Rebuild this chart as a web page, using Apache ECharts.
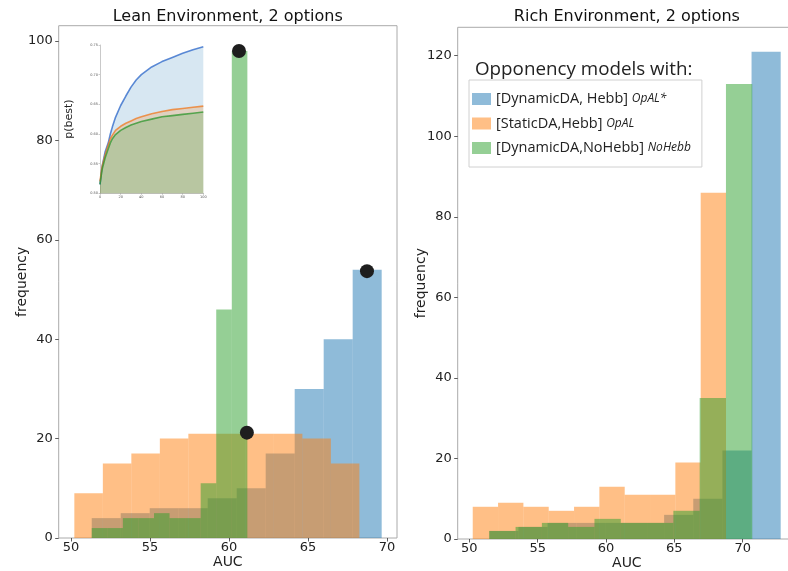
<!DOCTYPE html>
<html><head><meta charset="utf-8">
<script src="https://cdn.jsdelivr.net/npm/echarts@6/dist/echarts.min.js"></script>
<style>html,body{margin:0;padding:0;background:#fff}#c{width:788px;height:571px}</style>
</head><body><div id="c"></div>
<script>
// ---- data ----
const seriesNames = ['[DynamicDA, Hebb]', '[StaticDA,Hebb]', '[DynamicDA,NoHebb]'];
const seriesTags = ['OpAL*', 'OpAL', 'NoHebb'];

const leanBlueRange = [51.31, 69.66];
const leanBlueCounts = [4, 5, 6, 6, 8, 10, 17, 30, 40, 54];
const leanOrangeRange = [50.21, 68.25];
const leanOrangeCounts = [9, 15, 17, 20, 21, 21, 21, 21, 20, 15];
const leanGreenRange = [51.31, 61.16];
const leanGreenCounts = [2, 2, 4, 4, 5, 4, 4, 11, 46, 98];

const richBlueRange = [51.46, 72.78];
const richBlueCounts = [2, 3, 4, 4, 4, 4, 6, 10, 22, 121];
const richOrangeRange = [50.25, 68.78];
const richOrangeCounts = [8, 9, 8, 7, 8, 13, 11, 11, 19, 86];
const richGreenRange = [51.46, 70.70];
const richGreenCounts = [2, 3, 4, 3, 5, 4, 4, 7, 35, 113];

const leanMarkerX = [60.63, 61.13, 68.73];
const leanMarkerY = [98, 21.2, 53.7];

const insetTrials = [0, 2, 5, 8, 10, 12, 15, 20, 25, 30, 35, 40, 50, 60, 70, 80, 90, 100];
const insetBlue   = [0.515, 0.545, 0.570, 0.585, 0.600, 0.612, 0.628, 0.648, 0.664, 0.679, 0.691, 0.700, 0.713, 0.722, 0.729, 0.736, 0.742, 0.747];
const insetOrange = [0.520, 0.545, 0.565, 0.582, 0.592, 0.598, 0.606, 0.613, 0.618, 0.622, 0.626, 0.629, 0.634, 0.638, 0.641, 0.643, 0.645, 0.647];
const insetGreen  = [0.515, 0.540, 0.560, 0.575, 0.585, 0.592, 0.599, 0.606, 0.611, 0.615, 0.618, 0.621, 0.625, 0.629, 0.631, 0.633, 0.635, 0.637];

const aucTicks = [50, 55, 60, 65, 70];
const leanFreqTicks = [0, 20, 40, 60, 80, 100];
const richFreqTicks = [0, 20, 40, 60, 80, 100, 120];

const titles = ['Lean Environment, 2 options', 'Rich Environment, 2 options'];
const legendHeading = 'Opponency models with:';

// ---- helpers ----
const fills = ['rgba(31,119,180,0.5)', 'rgba(255,127,14,0.5)', 'rgba(44,160,44,0.5)'];
const lines = ['rgba(40,100,200,0.75)', 'rgba(240,120,30,0.75)', 'rgba(44,150,44,0.75)'];
const areas = ['rgba(31,119,180,0.25)', 'rgba(255,127,14,0.3)', 'rgba(44,160,44,0.3)'];

function histBins(range, counts) {
  const w = (range[1] - range[0]) / counts.length;
  return counts.map((c, i) => [range[0] + i * w, range[0] + (i + 1) * w, c]);
}
function renderBar(params, api) {
  const p0 = api.coord([api.value(0), api.value(2)]);
  const p1 = api.coord([api.value(1), 0]);
  return { type: 'rect', shape: { x: p0[0], y: p0[1], width: p1[0] - p0[0], height: p1[1] - p0[1] },
           style: { fill: api.visual('color') } };
}
function histSeries(idx, axis, range, counts) {
  return { type: 'custom', name: seriesNames[idx], xAxisIndex: axis, yAxisIndex: axis,
    renderItem: renderBar, encode: { x: [0, 1], y: 2 },
    itemStyle: { color: fills[idx] }, data: histBins(range, counts), silent: true };
}
function insetSeries(idx, vals) {
  return { type: 'line', name: 'inset' + idx, xAxisIndex: 2, yAxisIndex: 2, symbol: 'none',
    data: insetTrials.map((t, i) => [t, vals[i]]),
    lineStyle: { color: lines[idx], width: 1.6 }, itemStyle: { color: lines[idx] },
    areaStyle: { color: areas[idx], origin: 'start' }, z: 5, silent: true };
}
const tickColor = '#333';
const frame = '#aaaaaa';
function mainX(idx, min, max) {
  return { type: 'value', gridIndex: idx, min: min, max: max, name: 'AUC', nameLocation: 'middle', nameGap: 17,
    nameMoveOverlap: false,
    nameTextStyle: { fontFamily: 'DejaVu Sans', fontSize: 14, color: '#222' },
    axisLine: { show: false }, splitLine: { show: false },
    axisTick: { show: true, length: 3.5, customValues: aucTicks, lineStyle: { color: tickColor, width: 0.8 } },
    axisLabel: { customValues: aucTicks, margin: 3, fontFamily: 'DejaVu Sans', fontSize: 13, color: '#222' } };
}
function mainY(idx, max, ticks) {
  return { type: 'value', gridIndex: idx, min: 0, max: max, name: 'frequency', nameLocation: 'middle', nameGap: 29,
    nameMoveOverlap: false,
    nameTextStyle: { fontFamily: 'DejaVu Sans', fontSize: 14, color: '#222' },
    axisLine: { show: false }, splitLine: { show: false },
    axisTick: { show: true, length: 3.5, customValues: ticks, lineStyle: { color: tickColor, width: 0.8 } },
    axisLabel: { customValues: ticks, margin: 6, fontFamily: 'DejaVu Sans', fontSize: 13, color: '#222' } };
}

const option = {
  animation: false,
  backgroundColor: '#ffffff',
  grid: [
    { left: 58.7, top: 25.7, width: 338.3, height: 512.3, show: true, borderColor: frame, borderWidth: 1, backgroundColor: 'transparent', containLabel: false, outerBoundsMode: 'none' },
    { left: 457.7, top: 27.3, width: 338.3, height: 511.7, show: true, borderColor: frame, borderWidth: 1, backgroundColor: 'transparent', containLabel: false, outerBoundsMode: 'none' },
    { left: 100, top: 45, width: 103.3, height: 148.3, containLabel: false, outerBoundsMode: 'none' }
  ],
  xAxis: [
    mainX(0, 49.22, 70.63),
    mainX(1, 49.15, 73.9),
    { type: 'value', gridIndex: 2, min: 0, max: 100, interval: 20,
      axisLine: { show: true, lineStyle: { color: '#bbb', width: 0.8 } }, splitLine: { show: false },
      axisTick: { show: true, length: 1.5, lineStyle: { color: '#999', width: 0.5 } },
      axisLabel: { fontSize: 3.5, margin: 2, color: '#555', fontFamily: 'DejaVu Sans' } }
  ],
  yAxis: [
    mainY(0, 103.1, leanFreqTicks),
    mainY(1, 127.05, richFreqTicks),
    { type: 'value', gridIndex: 2, min: 0.5, max: 0.75, interval: 0.05, name: 'p(best)', nameLocation: 'middle', nameGap: 25,
      nameMoveOverlap: false,
      nameTextStyle: { fontFamily: 'DejaVu Sans', fontSize: 11, color: '#222' },
      axisLine: { show: true, lineStyle: { color: '#bbb', width: 0.8 } }, splitLine: { show: false },
      axisTick: { show: true, length: 1.5, lineStyle: { color: '#999', width: 0.5 } },
      axisLabel: { fontSize: 3.5, margin: 2, color: '#555', fontFamily: 'DejaVu Sans', formatter: v => v.toFixed(2) } }
  ],
  legend: {
    data: seriesNames, left: 469, top: 80, orient: 'vertical', icon: 'rect', itemWidth: 19, itemHeight: 12,
    itemGap: 8.5, padding: [11, 11, 11, 3], borderColor: '#d0d0d0', borderWidth: 1, backgroundColor: '#fff',
    selectedMode: false,
    formatter: n => n + ' {it|' + seriesTags[seriesNames.indexOf(n)] + '}',
    textStyle: { fontFamily: 'Open Sans', fontSize: 14.5, color: '#222', lineHeight: 16,
      rich: { it: { fontFamily: 'Open Sans', fontStyle: 'italic', fontSize: 12, color: '#222' } } }
  },
  graphic: [
    { type: 'text', left: 475, top: 60, style: { text: legendHeading, font: '18.8px "Open Sans"', fill: '#222' } },
    { type: 'text', x: 227.7, y: 17, style: { text: titles[0], font: '16px "DejaVu Sans"', fill: '#111', textAlign: 'center', textVerticalAlign: 'middle' } },
    { type: 'text', x: 626.9, y: 17, style: { text: titles[1], font: '16px "DejaVu Sans"', fill: '#111', textAlign: 'center', textVerticalAlign: 'middle' } }
  ],
  series: [
    histSeries(0, 0, leanBlueRange, leanBlueCounts),
    histSeries(1, 0, leanOrangeRange, leanOrangeCounts),
    histSeries(2, 0, leanGreenRange, leanGreenCounts),
    histSeries(0, 1, richBlueRange, richBlueCounts),
    histSeries(1, 1, richOrangeRange, richOrangeCounts),
    histSeries(2, 1, richGreenRange, richGreenCounts),
    { type: 'scatter', xAxisIndex: 0, yAxisIndex: 0, symbolSize: 14, itemStyle: { color: '#1e1e1e', opacity: 1 },
      data: leanMarkerX.map((x, i) => [x, leanMarkerY[i]]), z: 10, silent: true },
    insetSeries(0, insetBlue),
    insetSeries(1, insetOrange),
    insetSeries(2, insetGreen)
  ]
};
const chart = echarts.init(document.getElementById('c'), null, { renderer: 'canvas' });
chart.setOption(option);
</script></body></html>
